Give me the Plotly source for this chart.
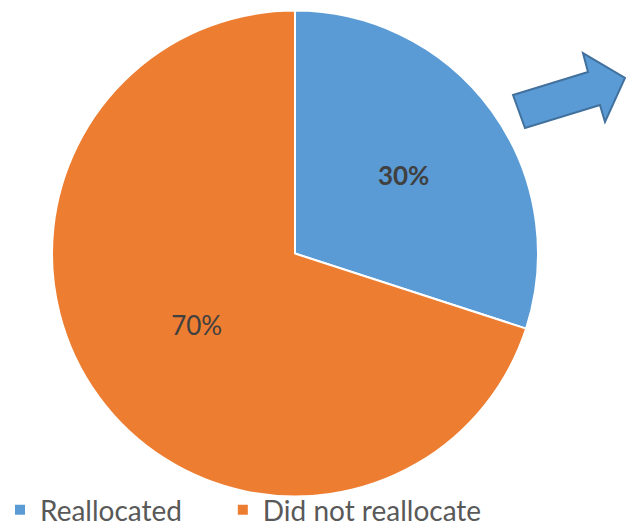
import plotly.graph_objects as go

categories = ["Reallocated", "Did not reallocate"]
values = [30, 70]
colors = ["#5B9BD5", "#ED7D31"]

W, H = 627, 527

# legend labels: extra non-breaking space after the first entry widens the gap between legend items
legend_labels = [categories[0] + "\u00a0" * 5, categories[1]]

fig = go.Figure()
fig.add_trace(go.Pie(
    labels=legend_labels,
    values=values,
    sort=False,
    direction="clockwise",
    rotation=0,
    marker=dict(colors=colors, line=dict(color="white", width=2)),
    texttemplate=["<b>%{percent:.0%}</b>", "%{percent:.0%}"],
    textposition="inside",
    insidetextorientation="horizontal",
    textfont=dict(family="Lato", size=26, color="#404040"),
    domain=dict(x=[52 / W, 538 / W], y=[1 - 497 / H, 1 - 10 / H]),
    customdata=categories,
    hovertemplate="%{customdata}: %{percent}<extra></extra>",
))

# block arrow (pixel coords -> paper)
pts = [(513, 95), (588, 72), (583, 53), (625, 78), (605, 122), (600, 105), (525, 128)]
path = "M " + " L ".join(f"{x / W:.4f},{1 - y / H:.4f}" for x, y in pts) + " Z"
fig.add_shape(type="path", xref="paper", yref="paper", path=path,
              fillcolor="#5B9BD5", line=dict(color="#41719C", width=2))

fig.update_layout(
    width=W, height=H,
    margin=dict(l=0, r=0, t=0, b=0, autoexpand=False),
    paper_bgcolor="white",
    showlegend=True,
    legend=dict(orientation="h", x=0, xanchor="left", y=1 - 510 / H, yanchor="middle",
                font=dict(family="Lato", size=28, color="#595959"),
                itemwidth=30, traceorder="normal",
                bgcolor="rgba(0,0,0,0)"),
)

fig.write_html("out.html")
